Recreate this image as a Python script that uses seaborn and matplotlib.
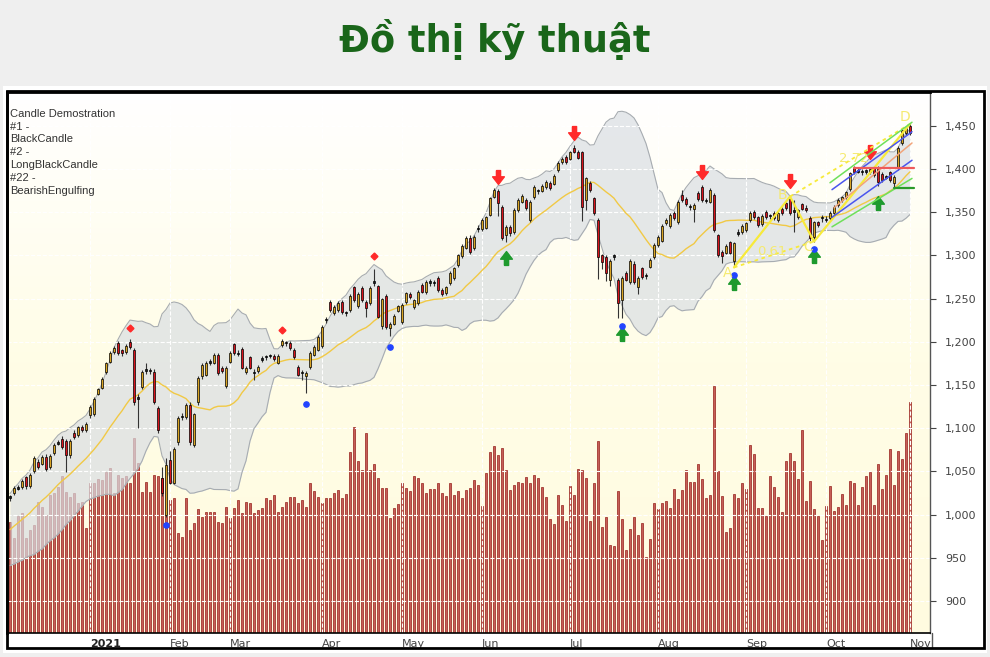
import numpy as np
import pandas as pd
import seaborn as sns
import matplotlib.pyplot as plt
from matplotlib.path import Path
from matplotlib.patches import Rectangle
from matplotlib.lines import Line2D
from matplotlib.colors import LinearSegmentedColormap
from matplotlib.ticker import FuncFormatter

# daily candles, Dec 2020 -> Nov 1 2021 (index points)
open_ = [1019, 1025, 1031, 1032, 1043, 1033, 1050, 1061, 1059, 1067,
         1055, 1071, 1082, 1088, 1085, 1069, 1095, 1092, 1101, 1098,
         1115, 1116, 1140, 1147, 1165, 1177, 1188, 1199, 1190, 1188,
         1200, 1190, 1134, 1148, 1166, 1167, 1165, 1123, 1042, 1000,
         1063, 1037, 1084, 1113, 1113, 1127, 1081, 1130, 1160, 1162,
         1176, 1176, 1185, 1170, 1149, 1177, 1197, 1187, 1192, 1165,
         1182, 1165, 1166, 1179, 1182, 1183, 1183, 1176, 1196, 1199,
         1199, 1191, 1171, 1165, 1160, 1171, 1185, 1191, 1195, 1225,
         1246, 1233, 1237, 1246, 1234, 1237, 1263, 1241, 1262, 1246,
         1245, 1270, 1264, 1218, 1253, 1216, 1221, 1236, 1223, 1246,
         1255, 1240, 1245, 1266, 1257, 1268, 1269, 1274, 1260, 1256,
         1268, 1274, 1289, 1299, 1309, 1320, 1308, 1330, 1330, 1332,
         1347, 1368, 1375, 1356, 1323, 1333, 1327, 1352, 1362, 1364,
         1341, 1367, 1375, 1375, 1379, 1384, 1383, 1399, 1408, 1414,
         1412, 1424, 1420, 1419, 1364, 1384, 1366, 1341, 1300, 1298,
         1271, 1298, 1272, 1248, 1280, 1269, 1290, 1263, 1285, 1277,
         1287, 1298, 1312, 1317, 1337, 1334, 1349, 1338, 1370, 1365,
         1357, 1354, 1372, 1379, 1364, 1362, 1370, 1323, 1304, 1303,
         1315, 1294, 1325, 1327, 1329, 1341, 1350, 1344, 1336, 1350,
         1345, 1349, 1341, 1354, 1360, 1365, 1352, 1344, 1359, 1355,
         1343, 1321, 1338, 1343, 1342, 1343, 1349, 1358, 1364, 1367,
         1377, 1401, 1398, 1396, 1397, 1396, 1401, 1401, 1394, 1391,
         1396, 1384, 1401, 1430, 1441, 1450]
high = [1023, 1033, 1034, 1041, 1045, 1048, 1068, 1064, 1069, 1070,
        1070, 1083, 1086, 1091, 1087, 1087, 1098, 1103, 1104, 1107,
        1127, 1136, 1147, 1159, 1177, 1189, 1195, 1201, 1192, 1197,
        1203, 1193, 1140, 1167, 1176, 1170, 1168, 1126, 1055, 1066,
        1074, 1078, 1114, 1117, 1129, 1130, 1118, 1160, 1175, 1178,
        1180, 1187, 1187, 1172, 1172, 1189, 1199, 1190, 1194, 1172,
        1184, 1168, 1173, 1183, 1185, 1186, 1186, 1186, 1203, 1201,
        1201, 1193, 1173, 1167, 1166, 1189, 1196, 1208, 1219, 1229,
        1248, 1242, 1247, 1248, 1236, 1255, 1265, 1257, 1264, 1248,
        1264, 1284, 1266, 1251, 1255, 1223, 1232, 1243, 1245, 1258,
        1258, 1250, 1260, 1268, 1271, 1273, 1272, 1276, 1262, 1265,
        1282, 1287, 1302, 1313, 1322, 1323, 1323, 1335, 1343, 1346,
        1368, 1378, 1377, 1358, 1335, 1335, 1355, 1366, 1371, 1366,
        1364, 1381, 1377, 1382, 1387, 1386, 1394, 1409, 1414, 1416,
        1421, 1428, 1422, 1421, 1391, 1386, 1368, 1343, 1302, 1300,
        1296, 1302, 1274, 1276, 1282, 1296, 1294, 1276, 1287, 1280,
        1297, 1314, 1323, 1336, 1343, 1349, 1351, 1364, 1376, 1367,
        1359, 1360, 1374, 1381, 1366, 1378, 1372, 1325, 1306, 1313,
        1317, 1316, 1330, 1336, 1339, 1351, 1352, 1346, 1348, 1352,
        1348, 1351, 1351, 1356, 1362, 1368, 1364, 1354, 1361, 1358,
        1345, 1340, 1340, 1347, 1345, 1351, 1358, 1366, 1369, 1375,
        1397, 1403, 1401, 1400, 1400, 1402, 1403, 1403, 1396, 1393,
        1398, 1393, 1426, 1447, 1449, 1453]
low = [1016, 1023, 1028, 1030, 1030, 1031, 1048, 1053, 1057, 1051,
       1053, 1069, 1080, 1076, 1049, 1066, 1088, 1090, 1096, 1096,
       1112, 1114, 1138, 1145, 1163, 1175, 1186, 1185, 1184, 1186,
       1192, 1127, 1100, 1145, 1163, 1163, 1128, 1095, 1022, 997,
       1035, 1035, 1081, 1110, 1111, 1080, 1078, 1127, 1157, 1160,
       1173, 1174, 1162, 1164, 1146, 1175, 1185, 1183, 1168, 1163,
       1168, 1156, 1164, 1177, 1179, 1181, 1178, 1174, 1194, 1195,
       1191, 1180, 1160, 1156, 1141, 1169, 1183, 1189, 1193, 1222,
       1235, 1231, 1235, 1232, 1230, 1235, 1246, 1239, 1246, 1229,
       1243, 1265, 1227, 1215, 1215, 1207, 1219, 1234, 1220, 1244,
       1250, 1238, 1243, 1256, 1255, 1265, 1264, 1258, 1253, 1254,
       1266, 1272, 1287, 1297, 1307, 1302, 1306, 1327, 1328, 1330,
       1345, 1366, 1345, 1318, 1315, 1322, 1325, 1350, 1360, 1353,
       1339, 1365, 1371, 1373, 1377, 1376, 1381, 1397, 1406, 1406,
       1410, 1418, 1411, 1340, 1352, 1373, 1347, 1273, 1284, 1270,
       1265, 1295, 1228, 1227, 1270, 1267, 1267, 1255, 1273, 1273,
       1285, 1296, 1310, 1315, 1335, 1332, 1341, 1336, 1362, 1357,
       1353, 1338, 1363, 1362, 1360, 1360, 1327, 1298, 1291, 1301,
       1301, 1286, 1322, 1325, 1327, 1339, 1342, 1333, 1334, 1342,
       1342, 1341, 1339, 1347, 1353, 1347, 1327, 1342, 1352, 1350,
       1317, 1315, 1333, 1338, 1339, 1341, 1347, 1356, 1362, 1365,
       1375, 1394, 1395, 1393, 1394, 1394, 1391, 1380, 1385, 1388,
       1385, 1378, 1399, 1428, 1439, 1439]
close = [1021, 1031, 1030, 1039, 1033, 1046, 1066, 1055, 1067, 1053,
         1068, 1081, 1083, 1078, 1069, 1085, 1090, 1101, 1098, 1105,
         1125, 1134, 1145, 1157, 1175, 1187, 1193, 1187, 1187, 1195,
         1194, 1130, 1136, 1165, 1168, 1166, 1130, 1098, 1025, 1057,
         1037, 1076, 1112, 1114, 1127, 1084, 1116, 1158, 1173, 1175,
         1177, 1185, 1164, 1166, 1170, 1187, 1187, 1186, 1170, 1170,
         1170, 1164, 1171, 1181, 1183, 1183, 1180, 1184, 1201, 1198,
         1193, 1182, 1162, 1164, 1164, 1187, 1194, 1206, 1217, 1226,
         1237, 1240, 1245, 1234, 1233, 1253, 1248, 1255, 1248, 1239,
         1262, 1268, 1229, 1249, 1217, 1221, 1230, 1241, 1243, 1256,
         1252, 1248, 1258, 1258, 1269, 1270, 1268, 1260, 1255, 1263,
         1280, 1285, 1300, 1311, 1320, 1304, 1321, 1332, 1341, 1344,
         1366, 1376, 1360, 1320, 1333, 1326, 1353, 1364, 1369, 1355,
         1362, 1379, 1374, 1380, 1385, 1378, 1392, 1407, 1412, 1408,
         1419, 1420, 1413, 1356, 1389, 1376, 1349, 1298, 1292, 1280,
         1294, 1300, 1245, 1274, 1272, 1294, 1269, 1274, 1275, 1276,
         1295, 1312, 1321, 1334, 1341, 1347, 1343, 1362, 1364, 1359,
         1356, 1358, 1365, 1364, 1363, 1376, 1329, 1300, 1299, 1311,
         1303, 1314, 1327, 1334, 1337, 1349, 1344, 1335, 1346, 1344,
         1346, 1343, 1349, 1349, 1355, 1349, 1350, 1352, 1354, 1352,
         1320, 1338, 1335, 1344, 1341, 1349, 1356, 1364, 1367, 1373,
         1395, 1396, 1397, 1398, 1397, 1400, 1393, 1385, 1387, 1390,
         1387, 1391, 1424, 1445, 1447, 1441]
# volume, million shares
volume = [555, 475, 585, 600, 475, 515, 540, 655, 630, 590,
          690, 700, 730, 785, 705, 680, 700, 650, 655, 525,
          750, 750, 770, 765, 805, 825, 700, 790, 775, 785,
          750, 975, 850, 705, 755, 705, 790, 785, 775, 590,
          665, 675, 500, 480, 675, 515, 550, 620, 580, 605,
          605, 605, 555, 550, 630, 575, 625, 665, 600, 655,
          650, 600, 615, 625, 675, 665, 690, 605, 630, 655,
          680, 680, 650, 665, 630, 750, 710, 680, 650, 675,
          675, 700, 715, 675, 695, 905, 1030, 860, 815, 1000,
          815, 845, 775, 725, 725, 575, 625, 645, 750, 725,
          710, 785, 775, 750, 700, 720, 720, 750, 700, 685,
          750, 690, 710, 675, 715, 725, 765, 740, 635, 800,
          905, 935, 890, 925, 815, 715, 740, 755, 750, 780,
          750, 790, 775, 730, 680, 570, 545, 690, 640, 560,
          735, 690, 820, 815, 775, 560, 750, 960, 530, 580,
          440, 435, 710, 570, 415, 520, 580, 490, 550, 380,
          470, 650, 620, 650, 660, 625, 720, 670, 715, 815,
          755, 755, 845, 770, 675, 690, 1235, 810, 685, 505,
          525, 695, 675, 750, 720, 940, 895, 625, 625, 585,
          785, 730, 680, 605, 860, 900, 860, 770, 1015, 660,
          760, 620, 585, 465, 635, 735, 610, 630, 695, 640,
          760, 750, 640, 730, 785, 805, 640, 845, 720, 790,
          920, 740, 910, 870, 1000, 1155]
# closes before the first visible candle (feed the 20-day MA / bands)
warmup_close = [950, 955, 958, 962, 965, 963, 968, 972, 975, 978,
                982, 985, 990, 995, 1003, 1000, 1005, 1010, 1015]

month_pos = [20, 40, 55, 78, 98, 118, 140, 162, 184, 204, 225]
month_lbl = ['2021', 'Feb', 'Mar', 'Apr', 'May', 'Jun', 'Jul', 'Aug', 'Sep', 'Oct', 'Nov']
price_ticks = [900, 950, 1000, 1050, 1100, 1150, 1200, 1250, 1300, 1350, 1400, 1450]

# signal markers
dot_red_idx = [30, 68, 91]
dot_red_val = [1216, 1214, 1299]
dot_blue_idx = [39, 74, 95, 153, 181, 201]
dot_blue_val = [988, 1128, 1194, 1218, 1277, 1307]
arrow_up_idx = [124, 153, 181, 201, 217]
arrow_up_val = [1297, 1209, 1268, 1299, 1360]
arrow_dn_idx = [122, 141, 173, 195, 215]
arrow_dn_val = [1391, 1441, 1396, 1386, 1419]

# harmonic pattern A-B-C-D
pat_idx = [181, 195, 201, 225]
pat_val = [1286, 1368, 1316, 1452]
pat_lbl = ['A', 'B', 'C', 'D']
pat_ratio = ['0.61', '2.72']

# trend channel lines (start/end index, start/end value)
chan_idx = [[205, 225.5], [205.5, 225.5], [206, 225.5], [205.5, 225.5], [205.5, 225.5]]
chan_val = [[1384, 1454], [1376, 1443], [1355, 1430], [1344, 1410], [1333, 1389]]
chan_col = ['#6fe05a', '#4a55ee', '#f2a47a', '#4a55ee', '#6fe05a']
resist_idx = [211, 226]
resist_val = [1401, 1401]
support_idx = [221, 226]
support_val = [1378, 1378]

notes = ['Candle Demostration', '#1 -', 'BlackCandle', '#2 -', 'LongBlackCandle', '#22 -', 'BearishEngulfing']

sns.set_style("white")
plt.rcParams['font.family'] = ['DejaVu Sans']

df = pd.DataFrame({'open': open_, 'high': high, 'low': low, 'close': close, 'volume': volume})
df['day'] = np.arange(len(df))
full = pd.Series(warmup_close + close, dtype=float)
n0 = len(warmup_close)
ma = full.rolling(20).mean().iloc[n0:].to_numpy()
sd = full.rolling(20).std(ddof=0).iloc[n0:].to_numpy()
df['ma'] = ma
df['bb_up'] = ma + 2 * sd
df['bb_lo'] = ma - 2 * sd

W, H = 990, 657
fig = plt.figure(figsize=(9.9, 6.57), dpi=100, facecolor='#efefef')


def box(x0, y0, x1, y1):
    return [x0 / W, 1 - y1 / H, (x1 - x0) / W, (y1 - y0) / H]


fig.patches.append(Rectangle((3 / W, 1 - 653 / H), 984 / W, 567 / H, transform=fig.transFigure,
                             facecolor='white', edgecolor='none', zorder=-1))

XL = (-0.75, 230)
YL = (863, 1489)

# volume layer (behind)
ax_vol = fig.add_axes(box(7, 92, 930, 633), label='vol')
cmap = LinearSegmentedColormap.from_list('bg', ['#ffffff', '#fffde6', '#fffbe0'])
ax_vol.imshow(np.linspace(0, 1, 256).reshape(-1, 1), aspect='auto', cmap=cmap,
              extent=(XL[0], XL[1], 0, 2705), origin='upper', zorder=0)
ax_vol.bar(df['day'], df['volume'], width=0.4, color='#c65e57', edgecolor='#951f1a',
           linewidth=0.5, zorder=1)
ax_vol.set_xlim(XL)
ax_vol.set_ylim(0, 2705)
ax_vol.set_axis_off()

# price layer
ax = fig.add_axes(box(7, 92, 930, 633), label='price')
ax.set_facecolor('none')
ax.fill_between(df['day'], df['bb_lo'], df['bb_up'], color='#d9dee3', alpha=0.7, lw=0, zorder=1)
ax.plot(df['day'], df['bb_up'], color='#a7acb1', lw=0.8, zorder=1.2)
ax.plot(df['day'], df['bb_lo'], color='#a7acb1', lw=0.8, zorder=1.2)
sns.lineplot(x=df['day'], y=df['ma'], ax=ax, color='#f1c945', lw=1.0, zorder=2)

ax.vlines(df['day'], df['low'], df['high'], color='#333333', lw=0.8, zorder=3)
body_lo = np.minimum(df['open'], df['close'])
body_h = np.maximum(np.abs(df['close'] - df['open']), 1.5)
diff = df['close'] - df['open']
colors = np.where(np.abs(diff) <= 2, '#222222', np.where(diff > 0, '#d9a424', '#d8141c'))
ax.bar(df['day'], body_h, bottom=body_lo, width=0.64, color=colors, edgecolor='black',
       linewidth=0.5, zorder=4)

# signals
ax.plot(dot_red_idx, dot_red_val, 'D', color='#ff2a2a', ms=3.5, zorder=5)
arrow_dn = Path([(-0.3, 1), (0.3, 1), (0.3, 0.1), (0.85, 0.1), (0, -1), (-0.85, 0.1), (-0.3, 0.1), (-0.3, 1)])
arrow_up = Path([(-0.3, -1), (0.3, -1), (0.3, -0.1), (0.85, -0.1), (0, 1), (-0.85, -0.1), (-0.3, -0.1), (-0.3, -1)])
ax.plot(arrow_dn_idx, arrow_dn_val, ls='none', marker=arrow_dn, ms=10, color='#ff2a2a', mec='#ff2a2a', zorder=5)
ax.plot(arrow_up_idx, arrow_up_val, ls='none', marker=arrow_up, ms=10, color='#1e9a2e', mec='#1e9a2e', zorder=5)
ax.plot(dot_blue_idx, dot_blue_val, 'o', color='#2244ff', ms=3.8, zorder=6)

# pattern
pc = '#f7ea3a'
ax.plot(pat_idx, pat_val, color=pc, lw=1.6, zorder=5)
ax.plot([pat_idx[0], pat_idx[2]], [pat_val[0], pat_val[2]], color=pc, lw=1.3, ls=(0, (2, 2)), zorder=5)
ax.plot([pat_idx[1], pat_idx[3]], [pat_val[1], pat_val[3]], color=pc, lw=1.3, ls=(0, (2, 2)), zorder=5)
lbl_off = [(-1.5, -6), (-1.8, 2), (-1.5, -6), (-1.2, 8)]
for i, (px, pv) in enumerate(zip(pat_idx, pat_val)):
    ax.text(px + lbl_off[i][0], pv + lbl_off[i][1], pat_lbl[i], color='#f5ea70', fontsize=10,
            ha='center', va='center', zorder=6)
ax.text((pat_idx[0] + pat_idx[2]) / 2 - 0.5, (pat_val[0] + pat_val[2]) / 2 + 3, pat_ratio[0],
        color='#f5ea70', fontsize=9.5, ha='center', va='center', zorder=6)
ax.text((pat_idx[1] + pat_idx[3]) / 2 + 1, (pat_val[1] + pat_val[3]) / 2 + 2, pat_ratio[1],
        color='#f5ea70', fontsize=9.5, ha='center', va='center', zorder=6)

for xi, yi, c in zip(chan_idx, chan_val, chan_col):
    ax.plot(xi, yi, color=c, lw=1.1, zorder=5)
ax.plot(resist_idx, resist_val, color='#ee5a5a', lw=1.6, zorder=5)
ax.plot(support_idx, support_val, color='#2a9a2a', lw=1.6, zorder=5)

# axes cosmetics
ax.set_xlim(XL)
ax.set_ylim(YL)
ax.set_xlabel('')
ax.set_ylabel('')
ax.yaxis.tick_right()
ax.set_yticks(price_ticks)
ax.yaxis.set_major_formatter(FuncFormatter(lambda v, p: f'{v:,.0f}'))
ax.tick_params(axis='y', length=4, color='#444444', labelsize=8, labelcolor='#444444', pad=7)
ax.set_xticks(month_pos)
ax.set_xticklabels(month_lbl, ha='left')
ax.tick_params(axis='x', length=3, color='#444444', labelsize=8, labelcolor='#444444', pad=1)
ax.get_xticklabels()[0].set_fontweight('bold')
ax.get_xticklabels()[0].set_color('#222222')
ax.grid(True, color='white', ls='--', lw=0.8)
ax.set_axisbelow('line')
for s in ['left', 'top']:
    ax.spines[s].set_linewidth(2)
    ax.spines[s].set_color('black')
ax.spines['bottom'].set_linewidth(1.2)
ax.spines['bottom'].set_color('black')
ax.spines['right'].set_linewidth(1)
ax.spines['right'].set_color('#555555')

ax.text(0.003, 0.969, '\n'.join(notes), transform=ax.transAxes, va='top', ha='left',
        fontsize=8, family='Liberation Sans', color='#333333', linespacing=1.35, zorder=6)

# outer frame
fig.patches.append(Rectangle((7 / W, 1 - 648 / H), 977 / W, 557 / H, transform=fig.transFigure,
                             facecolor='none', edgecolor='black', lw=2, zorder=10))
fig.add_artist(Line2D([932 / W, 932 / W], [1 - 648 / H, 1 - 633 / H], color='#555555', lw=1))

fig.text(0.5, 1 - 40 / H, 'Đồ thị kỹ thuật', ha='center', va='center', fontsize=26.5,
         fontweight='bold', color='#1a661a')

fig.savefig('out.png', dpi=100, facecolor=fig.get_facecolor())
